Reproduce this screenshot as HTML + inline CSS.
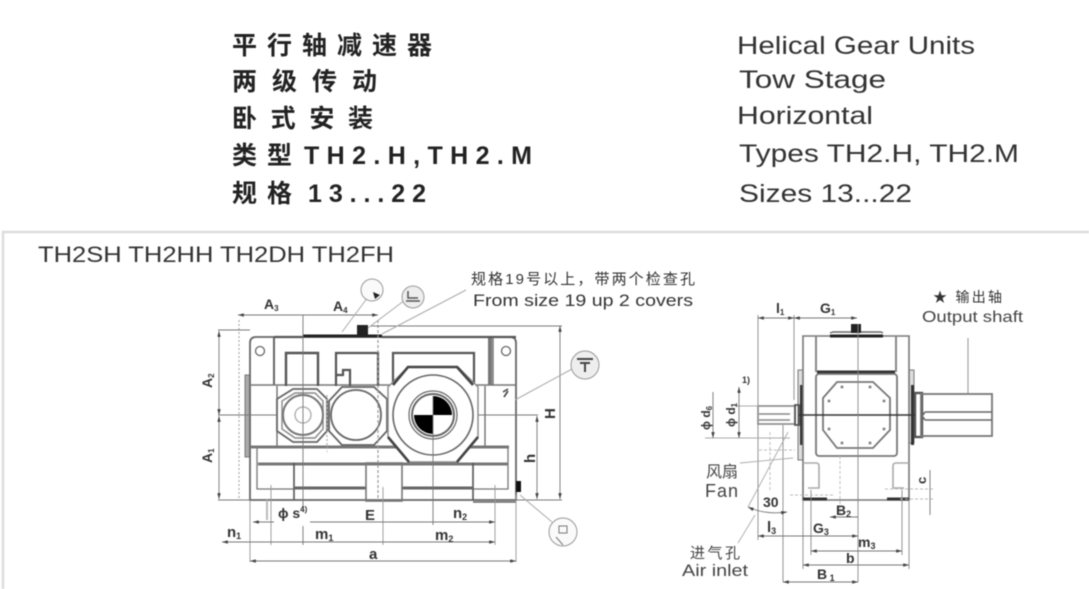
<!DOCTYPE html>
<html><head><meta charset="utf-8">
<style>
html,body{margin:0;padding:0;background:#fff;overflow:hidden}
svg{display:block;filter:blur(.45px)}
text{font-family:"Liberation Sans","Noto Sans CJK SC",sans-serif}
.t{font-size:25px;fill:#333}
.c{font-weight:700;fill:#222;font-size:25px}
.d{fill:none;stroke:#777;stroke-width:.9;marker-start:url(#a);marker-end:url(#a)}
</style></head><body>
<svg width="1089" height="589" viewBox="0 0 1089 589" xmlns="http://www.w3.org/2000/svg">
<defs>
<marker id="a" viewBox="0 0 10 6" refX="10" refY="3" markerUnits="userSpaceOnUse" markerWidth="7" markerHeight="3.5" orient="auto-start-reverse"><path d="M0 0L10 3L0 6z" fill="#444"/></marker>
</defs>
<rect width="1089" height="589" fill="#fff"/>
<!-- heading -->
<g>
<text class="c" x="232" y="54" textLength="200">平行轴减速器</text>
<text class="c" x="232" y="90" textLength="145">两级传动</text>
<text class="c" x="232" y="127" textLength="141">卧式安装</text>
<text class="c" x="232" y="164" textLength="60">类型</text>
<text class="c" x="304" y="164" textLength="228">TH2.H,TH2.M</text>
<text class="c" x="232" y="202" textLength="60">规格</text>
<text class="c" x="308" y="202" textLength="118">13...22</text>
<text class="t" x="737" y="54" textLength="238" lengthAdjust="spacingAndGlyphs">Helical Gear Units</text>
<text class="t" x="739" y="88" textLength="147" lengthAdjust="spacingAndGlyphs">Tow  Stage</text>
<text class="t" x="737" y="124" textLength="136" lengthAdjust="spacingAndGlyphs">Horizontal</text>
<text class="t" x="739" y="162" textLength="280" lengthAdjust="spacingAndGlyphs">Types TH2.H, TH2.M</text>
<text class="t" x="739" y="202" textLength="173" lengthAdjust="spacingAndGlyphs">Sizes 13...22</text>
</g>
<!-- panel -->
<path d="M3 589V232H1089" fill="none" stroke="#ddd" stroke-width="2.5"/>
<text x="38" y="262" font-size="22" fill="#333" textLength="356" lengthAdjust="spacingAndGlyphs">TH2SH TH2HH TH2DH TH2FH</text>
<text x="471" y="284" font-size="15" fill="#333" textLength="224">规格19号以上，带两个检查孔</text>
<text x="473" y="306" font-size="17" fill="#333" textLength="220" lengthAdjust="spacingAndGlyphs">From size 19 up 2 covers</text>

<!-- LEFT VIEW -->
<rect x="245" y="375" width="5" height="82" fill="#aaa" stroke="#777"/>
<rect x="273" y="337" width="2" height="48" fill="#666"/>
<rect x="488" y="337" width="4" height="48" fill="#777"/>
<g fill="none" stroke="#666" stroke-width="1.3">
<path d="M250 500V343q0-6 6-6H510q6 0 6 6V500z" stroke="#666" stroke-width="1.8"/>
<path d="M250 385H516" stroke="#777" stroke-width="1.6"/>
<path d="M303 336H382" stroke="#222" stroke-width="3"/>
<path d="M274 337H303M382 337H516" stroke="#555" stroke-width="2.2"/>
<path d="M286 386V353H318V386" stroke="#555" stroke-width="2.4"/>
<path d="M336 386V353H378V386M336 375H343V370H350V386" stroke="#555" stroke-width="2.2"/>
<path d="M393 386V353H474V386" stroke="#555" stroke-width="2.2"/>
<path d="M277 386V447M485 386V447M493 337V385" stroke="#666"/>
<path d="M250 447H509" stroke="#777" stroke-width="3"/>
<path d="M257 447V489H294M508 447V489H473" stroke="#777"/>
<path d="M258 464H508" stroke="#777" stroke-width="3"/>
<path d="M294 463V500M473 463V500" stroke="#555" stroke-width="1.6"/>
<path d="M294 488H366M402 488H473" stroke="#666" stroke-width="3"/>
<rect x="366" y="463" width="36" height="38" stroke="#777" stroke-width="1.6"/>
<path d="M473 502H516" stroke="#666" stroke-width="1.5"/>
<!-- octagons -->
<path d="M293 389H317L327 399V431L317 442H293L277 431V399z" stroke="#666" stroke-width="1.8" fill="#fff"/>
<path d="M295 393H315L323 401V429L315 438H295L282 429V401z" stroke="#888" stroke-width="1.4"/>
<circle cx="303" cy="415" r="20" stroke="#777" stroke-width="2"/>
<circle cx="303" cy="415" r="8" stroke="#aaa"/>
<path d="M342 387H374L387 399V431L374 445H342L329 431V401z" stroke="#666" stroke-width="1.8" fill="#fff"/>
<circle cx="356" cy="415" r="25" stroke="#666" stroke-width="1.8"/>
<path d="M408 367H458L478 387V437L457 462H409L388 437V387z" stroke="#888" stroke-width="1.4" fill="#fff"/>
<path d="M393 385L408 367H457L473 385M388 437L409 462M457 462L478 437" stroke="#444" stroke-width="2.6"/>
<circle cx="433" cy="415" r="40" stroke="#666" stroke-width="1.6"/>
<circle cx="433" cy="415" r="24" stroke="#666" stroke-width="1.2"/>
<circle cx="433" cy="415" r="21" stroke="#666" stroke-width="2"/>
<circle cx="260" cy="351" r="4.5"/><circle cx="506" cy="351" r="4.5"/>
</g>
<path d="M433 415V396A19 19 0 0 1 452 415z" fill="#000"/>
<path d="M433 415V434A19 19 0 0 1 414 415z" fill="#000"/>
<rect x="357" y="325" width="11" height="11" fill="#222"/>
<rect x="516" y="481" width="5" height="11" fill="#111"/>
<!-- centre lines -->
<g fill="none" stroke="#777" stroke-width=".9">
<path d="M218 415H277M478 415H538"/>
<path d="M303 315V545"/>
<path d="M433 396V525"/>
<path d="M378 320V500" stroke-dasharray="3 2" stroke="#999" stroke-width="1.2"/>
<path d="M327 395V452M239 320V500" stroke-dasharray="2 2" stroke="#aaa" stroke-width="1.2"/>
<path d="M271 485V545M495 485V545M383 487V545M250 500V562M516 495V562" stroke="#999"/>
<path d="M267 500V520" stroke="#bbb" stroke-width="2"/>
<path d="M218 330H250M218 500H250M370 326H562M516 500H562"/>
</g>
<!-- dims -->
<path class="d" d="M238 315H378"/>
<path class="d" d="M219 331V415"/><path class="d" d="M219 416V499"/>
<path class="d" d="M537 416V499"/><path class="d" d="M560 326V499"/>
<path class="d" d="M253 522H495"/>
<path class="d" d="M222 542H495"/>
<path class="d" d="M250 561H516"/>
<g fill="#fff"><rect x="274" y="512" width="36" height="14"/></g>
<g fill="#333" font-weight="700" font-size="14">
<text x="264" y="309">A<tspan font-size="8" dy="2">3</tspan></text>
<text x="333" y="311">A<tspan font-size="8" dy="2">4</tspan></text>
<text transform="translate(212 388) rotate(-90)">A<tspan font-size="8" dy="2">2</tspan></text>
<text transform="translate(212 463) rotate(-90)">A<tspan font-size="8" dy="2">1</tspan></text>
<text transform="translate(555 419) rotate(-90)" font-size="15">H</text>
<text transform="translate(535 463) rotate(-90)" font-size="15">h</text>
<text x="278" y="518">ϕ s<tspan font-size="8" dy="-6">4)</tspan></text>
<text x="365" y="520" font-size="15">E</text>
<text x="453" y="518" font-size="15">n<tspan font-size="9" dy="2">2</tspan></text>
<text x="227" y="537" font-size="15">n<tspan font-size="9" dy="2">1</tspan></text>
<text x="315" y="539" font-size="15">m<tspan font-size="9" dy="2">1</tspan></text>
<text x="435" y="540" font-size="15">m<tspan font-size="9" dy="2">2</tspan></text>
<text x="369" y="559" font-size="15">a</text>
</g>
<!-- callouts -->
<g fill="#eee" stroke="#999" stroke-width="1">
<path d="M342 332L368 297M368 328L405 300M382 334L466 290M515 400L572 369M520 495L552 522" fill="none" stroke="#aaa"/>
<circle cx="372" cy="290" r="11" fill="#fafafa"/>
<circle cx="413" cy="297" r="11"/>
<circle cx="585" cy="365" r="14"/>
<circle cx="563" cy="532" r="14" fill="#fafafa"/>
</g>
<path d="M373 292l7 3-5 4z" fill="#222"/>
<path d="M406 301h14M408 291v7h10" stroke="#555" stroke-width="1.5" fill="none"/>
<path d="M577 359h16M580 363h10M585 363v9" stroke="#444" stroke-width="2" fill="none"/>
<path d="M559 526h8v7h-8zM556 537l7 8" stroke="#777" fill="none"/>
<path d="M503 392l5-3M504 397l4-6" stroke="#444" stroke-width="1.6"/>

<!-- RIGHT VIEW -->
<rect x="798" y="370" width="5" height="90" fill="#ddd" stroke="#777"/>
<rect x="909" y="370" width="5" height="73" fill="#ddd" stroke="#777"/>
<rect x="800" y="385" width="3" height="60" fill="#333"/>
<rect x="911" y="385" width="3" height="60" fill="#333"/>
<g fill="none" stroke="#666" stroke-width="1.4">
<path d="M803 500V336H909V500z" stroke="#777" stroke-width="1.6"/>
<path d="M816 336V372M896 336V372" stroke="#888" stroke-width="2"/>
<path d="M817 372H895" stroke="#333" stroke-width="3"/>
<rect x="816" y="374" width="81" height="82" rx="3" stroke="#777" stroke-width="1.8" fill="#fff"/>
<path d="M837 382H873L890 398V430L873 448H837L823 430V398z" stroke="#777" stroke-width="1.8"/>
<path d="M830 333L833 332H881L883 333" stroke="#666"/>
<path d="M830 336H883" stroke="#222" stroke-width="3"/>
<rect x="915" y="393" width="7" height="44" stroke="#555" stroke-width="2.4"/>
<rect x="921" y="394" width="71" height="42" stroke="#777" stroke-width="1.8"/>
<path d="M925 412H992M925 420H992M922 416L925 412M922 416L925 420" stroke="#666" stroke-width="1.6"/>
<rect x="758" y="406" width="37" height="18" stroke="#888" stroke-width="1.6"/>
<path d="M759 414H790M759 420H790" stroke="#888"/>
<rect x="795" y="405" width="4" height="20" stroke="#555" stroke-width="1.8"/>
<path d="M799 415H915" stroke="#333" stroke-width="1.4"/>
<path d="M803 463H816Q819 463 819 466V488H808" stroke="#aaa" stroke-width="1.6"/>
<path d="M909 463H896Q893 463 893 466V488H904" stroke="#aaa" stroke-width="1.6"/>
<path d="M803 499H827M887 499H909" stroke="#333" stroke-width="3"/>
</g>
<rect x="851" y="324" width="10" height="9" fill="#222"/>
<g fill="#888"><circle cx="842" cy="387" r="1.5"/><circle cx="870" cy="387" r="1.5"/><circle cx="829" cy="401" r="1.5"/><circle cx="884" cy="401" r="1.5"/><circle cx="829" cy="429" r="1.5"/><circle cx="884" cy="429" r="1.5"/><circle cx="842" cy="443" r="1.5"/><circle cx="870" cy="443" r="1.5"/></g>
<g fill="none" stroke="#888" stroke-width=".9">
<path d="M758 315V540M794 315V400M858 324V582M968 338V393"/>
<path d="M783 425V582M811 490V555M902 490V555M803 500V569M909 500V569"/>
<path d="M735 406H758M705 438H790" stroke="#aaa"/>
<path d="M788 432L748 507M738 543L755 515M740 463L793 458" stroke="#aaa"/>
<path d="M759 450H795M770 432V490M790 495H835M885 489H933M900 499H933M840 456V516" stroke="#bbb" stroke-dasharray="3 2"/>
</g>
<path class="d" d="M758 318H794"/><path class="d" d="M794 318H857"/>
<path class="d" d="M713 392V438" style="marker-start:none"/>
<path class="d" d="M739 387V438"/>
<path class="d" d="M930 470V515" style="marker-start:none;marker-end:none"/>
<path class="d" d="M830 517H858" style="marker-end:none"/>
<path class="d" d="M758 536H858"/>
<path class="d" d="M811 551H902"/>
<path class="d" d="M803 565H909"/>
<path class="d" d="M783 582H858"/>
<path class="d" d="M748 507Q765 515 787 512"/>
<g fill="#333" font-weight="700" font-size="14">
<text x="776" y="313">l<tspan font-size="8" dy="2">1</tspan></text>
<text x="820" y="313">G<tspan font-size="8" dy="2">1</tspan></text>
<text x="742" y="383" font-size="9">1)</text>
<text transform="translate(710 430) rotate(-90)" font-size="12">ϕ d<tspan font-size="8" dy="2">6</tspan></text>
<text transform="translate(735 427) rotate(-90)" font-size="12">ϕ d<tspan font-size="8" dy="2">1</tspan></text>
<text x="763" y="507">30</text>
<text x="767" y="532" font-size="15">l<tspan font-size="9" dy="2">3</tspan></text>
<text x="813" y="533">G<tspan font-size="9" dy="2">3</tspan></text>
<text x="836" y="515">B<tspan font-size="9" dy="2">2</tspan></text>
<text x="858" y="547">m<tspan font-size="9" dy="2">3</tspan></text>
<text x="846" y="563">b</text>
<text x="817" y="579">B<tspan font-size="9" dy="2"> 1</tspan></text>
<text transform="translate(926 484) rotate(-90)" font-size="13">c</text>
</g>
<text x="933" y="302" font-size="14" fill="#333" textLength="69">★ 输出轴</text>
<text x="922" y="322" font-size="16" fill="#444" textLength="101" lengthAdjust="spacingAndGlyphs">Output shaft</text>
<text x="706" y="477" font-size="16" fill="#444">风扇</text>
<text x="705" y="497" font-size="18" fill="#444" textLength="33">Fan</text>
<text x="690" y="558" font-size="15" fill="#444" textLength="50">进气孔</text>
<text x="682" y="576" font-size="17" fill="#444" textLength="66" lengthAdjust="spacingAndGlyphs">Air inlet</text>
</svg>
</body></html>
